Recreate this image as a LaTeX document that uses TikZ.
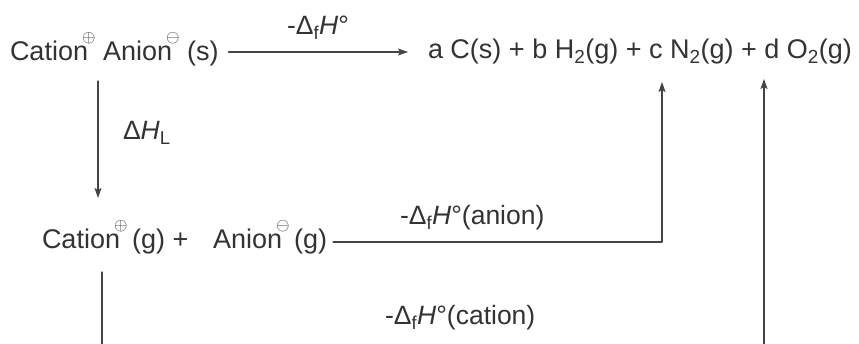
\documentclass[tikz,border=0pt]{standalone}
\usepackage{fontspec}
\setmainfont{Liberation Sans}
\usetikzlibrary{arrows.meta,positioning,calc}
\definecolor{ink}{HTML}{333333}
\definecolor{wire}{HTML}{444444}
\tikzset{
    every picture/.style={line cap=round,line join=round},
    species/.style={inner sep=0pt,outer sep=0pt,anchor=base west,text=ink,
      font=\fontsize{27}{31}\selectfont},
    enthlabel/.style={inner sep=0pt,outer sep=0pt,text=ink,
      font=\fontsize{26.5}{30}\selectfont},
    rxnarrow/.style={-{Stealth[length=10pt,width=7pt,inset=2pt]},draw=wire,
      line width=1.1pt},
    rxnline/.style={draw=wire,line width=1.1pt}
}
\newcommand{\dfH}{-Δ\textsubscript{f}\textit{H}°}
\newcommand{\chg}[1]{\kern-0.22em\raisebox{0.68em}{$\scriptstyle#1$}}

\begin{document}
\begin{tikzpicture}[x=1pt,y=-1pt]
  \useasboundingbox (0,0) rectangle (859,344);
  \node[species] (reac) at (10,61) {Cation\chg{\oplus} Anion\chg{\ominus} (s)};
  \node[species] (prod) at (428,59) {a C(s) + b H\textsubscript{2}(g) + c N\textsubscript{2}(g) + d O\textsubscript{2}(g)};
  \node[species] (catg) at (42,249) {Cation\chg{\oplus}\,(g) +};
  \node[species] (anig) at (213,249) {Anion\chg{\ominus}\,(g)};
  \coordinate (endC) at (102,344);
  \coordinate (endO) at (764,344);
  % enthalpy labels
  \node[enthlabel,anchor=base] (dHf) at (318,35) {\dfH};
  \node[enthlabel,anchor=base west] (dHL) at (123,140) {Δ\textit{H}\textsubscript{L}};
  \node[enthlabel,anchor=base west] (dHa) at (400,225) {\dfH(anion)};
  \node[enthlabel,anchor=base west] (dHc) at (385,325) {\dfH(cation)};
  % cycle
  \draw[rxnarrow] ([xshift=10pt,yshift=9pt]reac.base east) -- ([xshift=-20pt,yshift=7pt]prod.base west);
  \draw[rxnarrow] ([xshift=88pt,yshift=-20pt]reac.base west) -- ([xshift=56pt,yshift=51pt]catg.base west);
  \draw[rxnarrow] ([xshift=6pt,yshift=7pt]anig.base east) -| ([xshift=234pt,yshift=-23pt]prod.base west);
  \draw[rxnline] ([xshift=60pt,yshift=-23pt]catg.base west) -- (endC);
  \draw[rxnarrow] (endO) -- ([xshift=336pt,yshift=-20pt]prod.base west);
\end{tikzpicture}
\end{document}
